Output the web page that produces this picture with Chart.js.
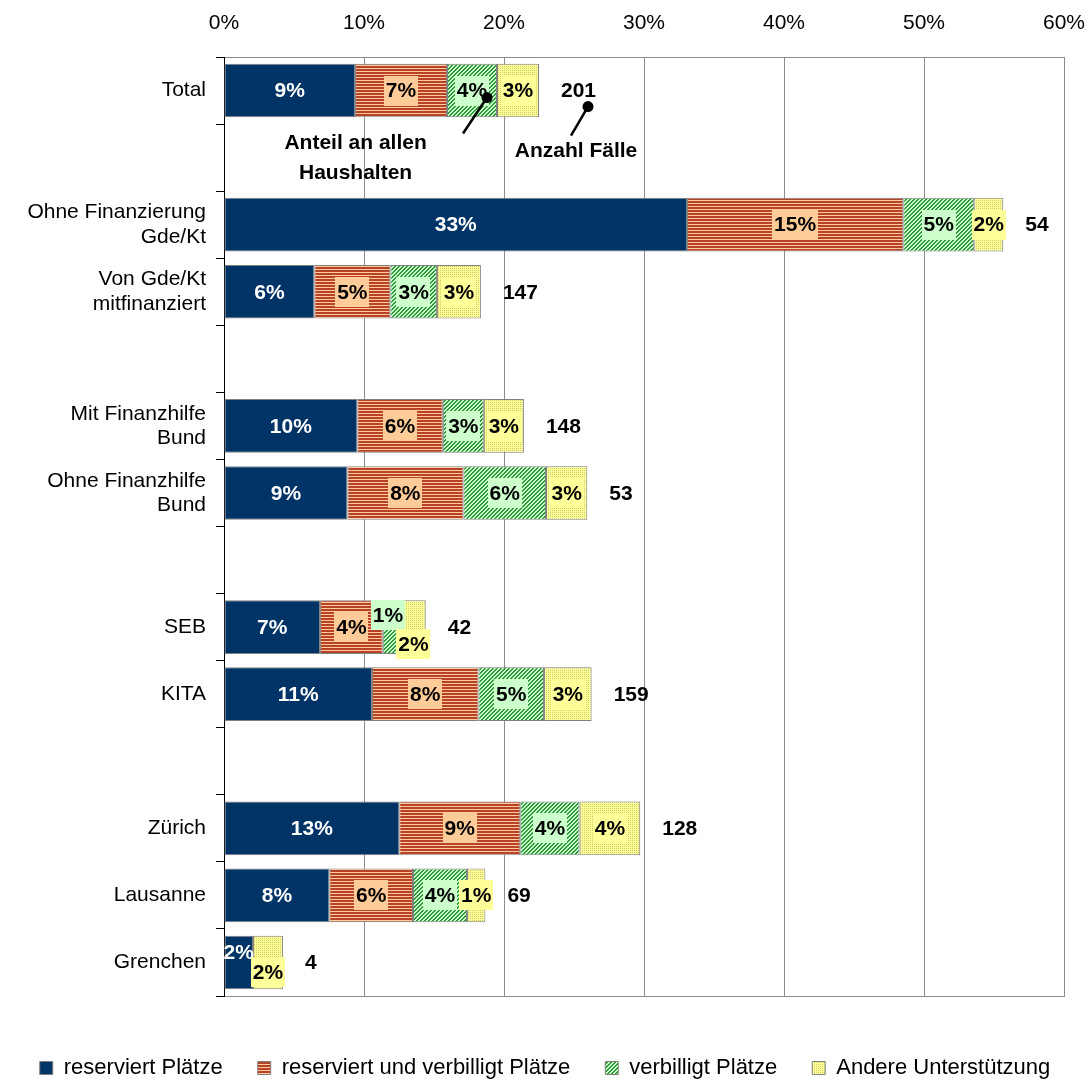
<!DOCTYPE html>
<html lang="de">
<head>
<meta charset="utf-8">
<title>Unterstützung nach Finanzierung</title>
<script src="https://cdn.jsdelivr.net/npm/chart.js@4.4.1/dist/chart.umd.min.js"></script>
<style>
  html, body { margin: 0; padding: 0; background: #fff; overflow: hidden; }
  #wrap { width: 1090px; height: 1079px; }
</style>
</head>
<body>
<div id="wrap"><canvas id="barChart" width="1090" height="1079"></canvas></div>
<script>
// Zeilen (leere Einträge = Abstand zwischen den Gruppen)
const rowLabels = [
  'Total', '',
  ['Ohne Finanzierung', 'Gde/Kt'], ['Von Gde/Kt', 'mitfinanziert'], '',
  ['Mit Finanzhilfe', 'Bund'], ['Ohne Finanzhilfe', 'Bund'], '',
  'SEB', 'KITA', '',
  'Zürich', 'Lausanne', 'Grenchen'
];

// Anteile in %
const reserviert           = [9.36, null, 33.07, 6.45, null, 9.52, 8.81, null, 6.86, 10.57, null, 12.52, 7.52, 2.07];
const reserviertVerbilligt = [6.57, null, 15.45, 5.43, null, 6.11, 8.29, null, 4.48, 7.6, null, 8.64, 5.98, null];
const verbilligt           = [3.57, null, 5.07, 3.33, null, 2.93, 5.9, null, 1.31, 4.69, null, 4.24, 3.86, null];
const andere               = [3.0, null, 2.07, 3.14, null, 2.86, 2.95, null, 1.76, 3.4, null, 4.33, 1.31, 2.14];

// Anzahl Fälle
const faelle = [201, null, 54, 147, null, 148, 53, null, 42, 159, null, 128, 69, 4];

const seriesNames = ['reserviert Plätze', 'reserviert und verbilligt Plätze', 'verbilligt Plätze', 'Andere Unterstützung'];
const xTicks = [0, 10, 20, 30, 40, 50, 60];

const FONT = '"Liberation Sans", Arial, Helvetica, sans-serif';
Chart.defaults.font.family = FONT;
Chart.defaults.color = '#000';

const canvas = document.getElementById('barChart');
const ctx = canvas.getContext('2d');

function makePattern(w, h, bg, fg, isOn) {
  const c = document.createElement('canvas');
  c.width = w; c.height = h;
  const g = c.getContext('2d');
  g.fillStyle = bg;
  g.fillRect(0, 0, w, h);
  g.fillStyle = fg;
  for (let y = 0; y < h; y++) {
    for (let x = 0; x < w; x++) {
      if (isOn(x, y)) g.fillRect(x, y, 1, 1);
    }
  }
  return ctx.createPattern(c, 'repeat');
}

const fillBlue = '#003366';
const fillRed = makePattern(4, 3, '#FFCC99', '#B8412A', (x, y) => y < 2);
const fillGreen = makePattern(4, 4, '#CCFFCC', '#2F9A3A', (x, y) => (x + y) % 4 < 2);
const fillYellow = makePattern(2, 2, '#FFFF99', '#CFCB66', (x, y) => x === 0 && y === 0);

// Hintergrund der Beschriftungen (null = keine Box, weisse Schrift)
const labelBg = [null, '#FFCC99', '#CCFFCC', '#FFFF99'];
// einzelne verschobene Beschriftungen: 'dataset:zeile' -> [dx, dy]
const labelShift = { '2:8': [-4, -12], '3:8': [0, 17], '0:13': [0, -10], '3:13': [0, 10] };

const segmentLabels = {
  id: 'segmentLabels',
  afterDatasetsDraw(chart) {
    const c = chart.ctx;
    c.save();
    c.font = 'bold 21px ' + FONT;
    c.textAlign = 'center';
    c.textBaseline = 'middle';
    chart.data.datasets.forEach((ds, i) => {
      chart.getDatasetMeta(i).data.forEach((bar, j) => {
        const v = ds.data[j];
        if (v === null || v === undefined) return;
        const p = bar.getProps(['x', 'y', 'base'], true);
        const s = labelShift[i + ':' + j] || [0, 0];
        const cx = (p.x + p.base) / 2 + s[0];
        const cy = p.y + s[1];
        const txt = Math.round(v) + '%';
        const w = c.measureText(txt).width + 4;
        if (labelBg[i]) {
          c.fillStyle = labelBg[i];
          c.fillRect(Math.round(cx - w / 2), Math.round(cy - 15), Math.round(w), 30);
          c.fillStyle = '#000';
        } else {
          c.fillStyle = '#fff';
        }
        c.fillText(txt, cx, cy + 1);
      });
    });
    c.restore();
  }
};

function barEnd(chart, j) {
  let end = null;
  chart.data.datasets.forEach((ds, i) => {
    if (ds.data[j] === null) return;
    const x = chart.getDatasetMeta(i).data[j].x;
    if (end === null || x > end) end = x;
  });
  return end;
}

const caseCounts = {
  id: 'caseCounts',
  afterDatasetsDraw(chart) {
    const c = chart.ctx;
    const yScale = chart.scales.y;
    c.save();
    c.font = 'bold 21px ' + FONT;
    c.textAlign = 'left';
    c.textBaseline = 'middle';
    c.fillStyle = '#000';
    faelle.forEach((n, j) => {
      if (n === null) return;
      c.fillText(String(n), barEnd(chart, j) + 22, yScale.getPixelForValue(j) + 1);
    });

    // Erläuterungen an der Total-Zeile
    const dot = (x, y) => { c.beginPath(); c.arc(x, y, 5.5, 0, Math.PI * 2); c.fill(); };
    c.strokeStyle = '#000';
    c.lineWidth = 2.5;
    c.textAlign = 'center';

    const green = chart.getDatasetMeta(2).data[0];
    const d1x = green.x - 10, d1y = green.y + 7;
    dot(d1x, d1y);
    c.beginPath(); c.moveTo(d1x, d1y); c.lineTo(d1x - 24, d1y + 36); c.stroke();
    const tx = chart.scales.x.getPixelForValue(9.4);
    c.fillText('Anteil an allen', tx, green.y + 53);
    c.fillText('Haushalten', tx, green.y + 83);

    const end0 = barEnd(chart, 0);
    const y0 = yScale.getPixelForValue(0);
    const d2x = end0 + 49, d2y = y0 + 16;
    dot(d2x, d2y);
    c.beginPath(); c.moveTo(d2x, d2y); c.lineTo(d2x - 17, d2y + 29); c.stroke();
    c.fillText('Anzahl Fälle', end0 + 37, y0 + 61);
    c.restore();
  }
};

const fills = [fillBlue, fillRed, fillGreen, fillYellow];
const values = [reserviert, reserviertVerbilligt, verbilligt, andere];

new Chart(ctx, {
  type: 'bar',
  data: {
    labels: rowLabels,
    datasets: seriesNames.map((name, i) => ({
      label: name,
      data: values[i],
      backgroundColor: fills[i],
      borderColor: '#808080',
      borderWidth: 1,
      borderSkipped: false,
      barPercentage: 0.8,
      categoryPercentage: 1.0
    }))
  },
  options: {
    indexAxis: 'y',
    responsive: false,
    devicePixelRatio: 1,
    animation: false,
    layout: { padding: { top: 0, right: 0, bottom: -10, left: 0 } },
    scales: {
      x: {
        position: 'top',
        stacked: true,
        min: 0,
        max: 60,
        afterBuildTicks: (scale) => { scale.ticks = xTicks.map(v => ({ value: v })); },
        afterFit: (scale) => {
          scale.height = 57;
          scale.paddingLeft = 0;
          scale.paddingRight = 0;
        },
        ticks: {
          padding: 21,
          font: { size: 21 },
          color: '#000',
          callback: (v) => v + '%'
        },
        grid: {
          drawTicks: false,
          color: (c) => (c.tick && c.tick.value === 0) ? 'rgba(0,0,0,0)' : '#8c8c8c'
        },
        border: { color: '#8c8c8c' }
      },
      x2: {
        type: 'linear',
        position: 'bottom',
        display: true,
        afterFit: (scale) => {
          scale.height = 26;
          scale.paddingLeft = 0;
          scale.paddingRight = 0;
        },
        ticks: { display: false },
        grid: { display: false },
        border: { color: '#8c8c8c' }
      },
      y: {
        stacked: true,
        afterFit: (scale) => { scale.width = 224; },
        ticks: {
          padding: 10,
          font: { size: 21, lineHeight: 1.15 },
          color: '#000'
        },
        grid: {
          offset: true,
          drawOnChartArea: false,
          tickLength: 8,
          color: '#000'
        },
        border: { color: '#000', width: 1 }
      },
      yR: {
        type: 'linear',
        position: 'right',
        display: true,
        afterFit: (scale) => { scale.width = 26; },
        ticks: { display: false },
        grid: { display: false },
        border: { display: false }
      }
    },
    plugins: {
      legend: {
        position: 'bottom',
        labels: {
          boxWidth: 13,
          boxHeight: 13,
          padding: 35,
          font: { size: 22 },
          color: '#000'
        }
      },
      tooltip: { enabled: false }
    }
  },
  plugins: [segmentLabels, caseCounts]
});
</script>
</body>
</html>
